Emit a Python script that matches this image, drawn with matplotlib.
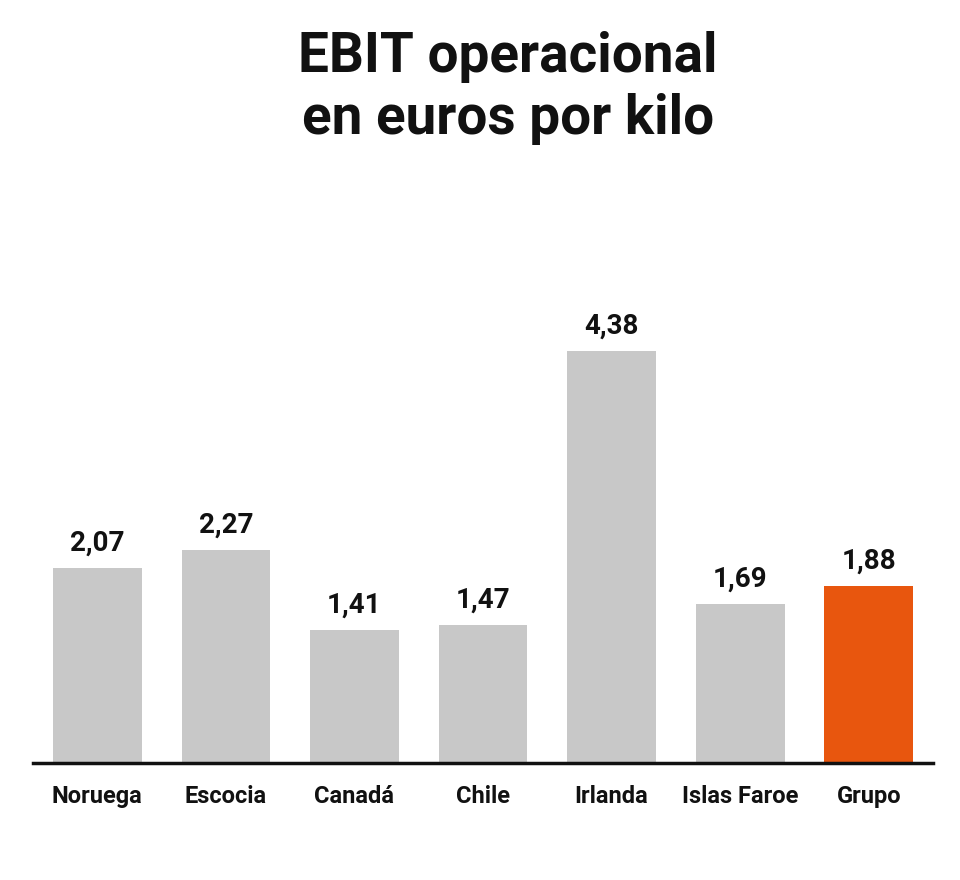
import matplotlib
matplotlib.use("Agg")
import matplotlib.pyplot as plt

categories = ["Noruega", "Escocia", "Canadá", "Chile", "Irlanda", "Islas Faroe", "Grupo"]
values = [2.07, 2.27, 1.41, 1.47, 4.38, 1.69, 1.88]
labels = ["2,07", "2,27", "1,41", "1,47", "4,38", "1,69", "1,88"]
colors = ["#c8c8c8"] * 6 + ["#e8560e"]

plt.rcParams["font.family"] = "Roboto"
fig = plt.figure(figsize=(9.6, 8.8), dpi=100)
ax = fig.add_axes([0.0344, 0.133, 0.9375, 0.64])
x = range(len(categories))
ax.bar(x, values, width=0.69, color=colors)
for i, (v, l) in enumerate(zip(values, labels)):
    ax.text(i, v + 0.12, l, ha="center", va="bottom", fontsize=20, fontweight="bold", color="#111111")
ax.set_xlim(-0.5, 6.5)
ax.set_ylim(0, 5.99)
ax.set_xticks(list(x))
ax.set_xticklabels(categories, fontsize=17, fontweight="bold", color="#111111")
ax.tick_params(axis="x", length=0, pad=16)
ax.set_yticks([])
for s in ["top", "right", "left"]:
    ax.spines[s].set_visible(False)
ax.spines["bottom"].set_linewidth(2.5)
ax.spines["bottom"].set_color("#111111")
fig.text(0.529, 0.965, "EBIT operacional\nen euros por kilo", ha="center", va="top",
         fontsize=39.5, fontweight="bold", color="#111111", linespacing=1.25)
fig.savefig("out.png", dpi=100, facecolor="white")
